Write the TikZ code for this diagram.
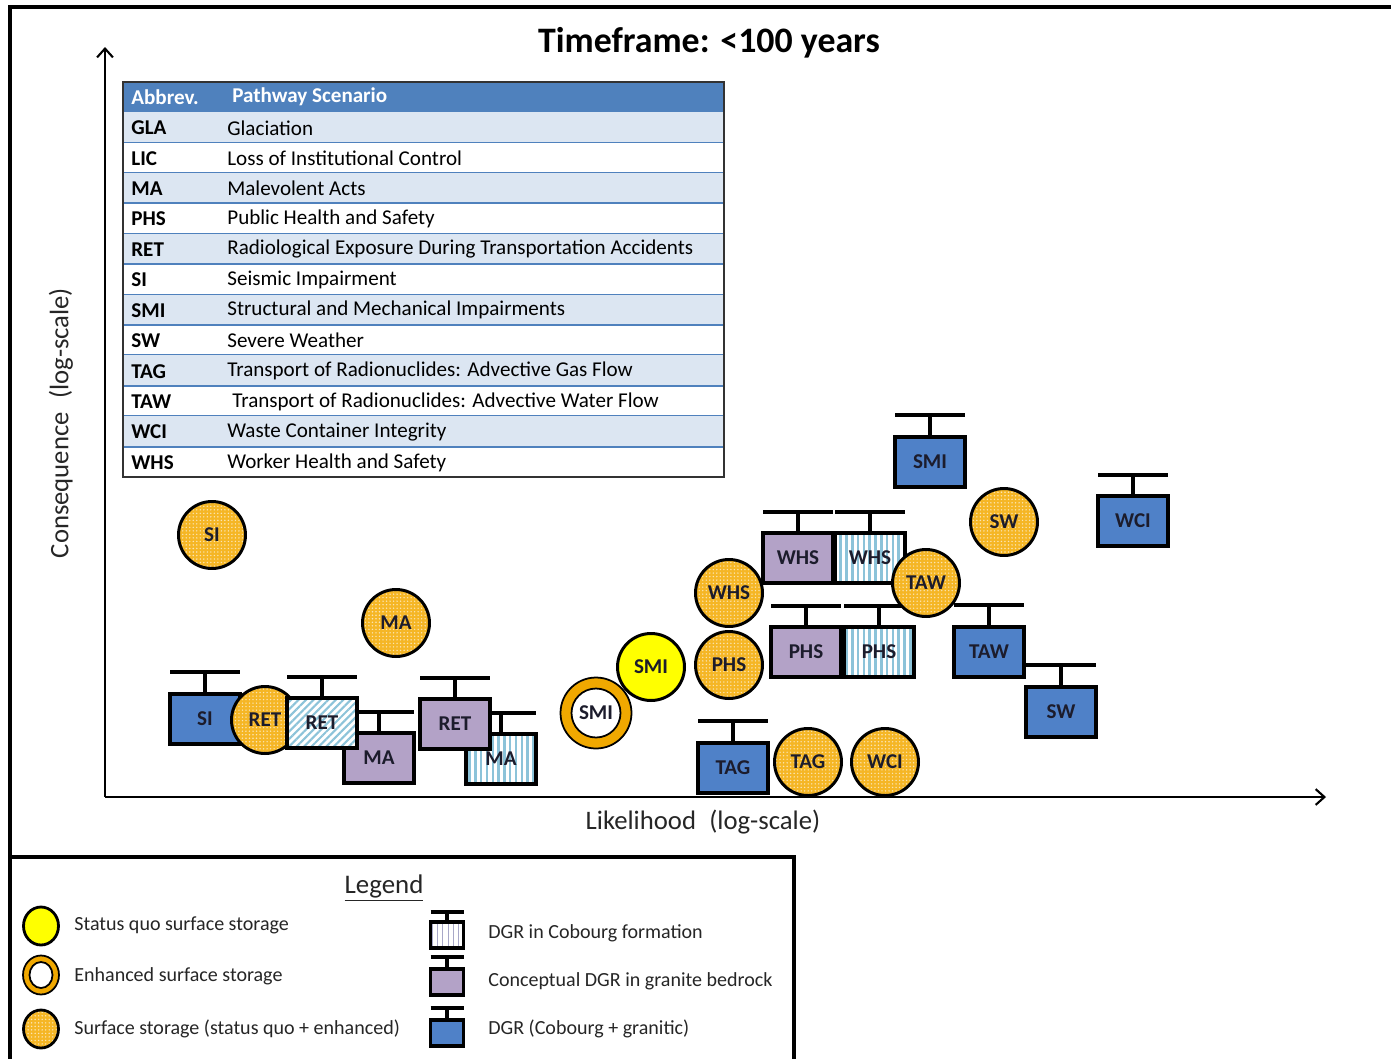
\documentclass[tikz,border=0pt]{standalone}
\usepackage{fontspec}
\setmainfont{Carlito}
\usetikzlibrary{patterns.meta,calc,arrows.meta}
\definecolor{dgrblue}{HTML}{4F81C8}
\definecolor{granite}{HTML}{B3A2C7}
\definecolor{stripe}{HTML}{8CC3D9}
\definecolor{legstripe}{HTML}{A8A8C8}
\definecolor{orangefill}{HTML}{F5B625}
\definecolor{ringorange}{HTML}{F0A800}
\definecolor{sqyellow}{HTML}{FFFF00}
\definecolor{rowlight}{HTML}{DCE6F2}
\definecolor{hdrblue}{HTML}{4F81BD}
\definecolor{labeltext}{HTML}{1C1C2C}
\tikzset{
  base/.style={inner sep=0pt, outer sep=0pt, font=\bfseries\fontsize{12}{14}\selectfont, text=labeltext},
  boxb/.style={base, rectangle, draw=black, line width=2.3pt, minimum width=1.4cm, minimum height=1.0cm},
  bluebox/.style={boxb, fill=dgrblue},
  granitebox/.style={boxb, fill=granite},
  cobourgbox/.style={boxb, preaction={fill=white}, pattern={Lines[angle=90,distance=3.3pt,line width=1.4pt]}, pattern color=stripe},
  cobourgdiag/.style={boxb, preaction={fill=white}, pattern={Lines[angle=45,distance=3pt,line width=1.2pt]}, pattern color=stripe},
  handlebar/.style={line width=2.4pt, draw=black},
  orangecirc/.style={base, circle, draw=black, line width=1.7pt, minimum size=1.34cm, preaction={fill=orangefill}, pattern={Dots[distance=2pt,radius=0.45pt]}, pattern color=white!65!orangefill},
  yellowcirc/.style={base, circle, draw=black, line width=1.7pt, minimum size=1.34cm, fill=sqyellow},
  ringouter/.style={base, circle, draw=black, line width=1pt, minimum size=1.42cm, fill=ringorange},
  ringinner/.style={base, circle, draw=black, line width=1pt, minimum size=0.98cm, fill=white},
  axis/.style={line width=1.2pt, -{Straight Barb[length=5pt,width=9pt,line width=1.2pt]}},
  tabtxt/.style={inner sep=0pt, anchor=west, font=\fontsize{12}{14}\selectfont, text=black},
  tababb/.style={tabtxt, font=\bfseries\fontsize{12}{14}\selectfont},
  legtxt/.style={inner sep=0pt, anchor=west, font=\fontsize{11.4}{13}\selectfont, text=black!85},
  legbox/.style={base, rectangle, draw=black, line width=2.2pt, minimum width=0.66cm, minimum height=0.52cm},
  legcirc/.style={base, ellipse, draw=black, line width=1.6pt, minimum width=0.7cm, minimum height=0.76cm},
}
\usetikzlibrary{shapes.geometric}
\newcommand\hdl[2]{%
  \draw[handlebar] ($(#1.north west)+(0,-#2)$) -- ($(#1.north east)+(0,-#2)$);
  \draw[handlebar] (#1.north) -- ++(0,-#2);}
\begin{document}
\begin{tikzpicture}[x=0.02cm,y=-0.02cm]
\useasboundingbox (0,0) rectangle (1391,1058);
\fill[white] (0,0) rectangle (1391,1058);
% outer frame
\draw[line width=2.3pt] (10,1062) -- (10,7) -- (1395,7);
% title
\node[font=\bfseries\fontsize{20.4}{24}\selectfont] (title) at (709,43) {Timeframe: <100 years};
% table
\fill[hdrblue] (123,82) rectangle (724,112);
\node[tababb, text=white] (hab) at (131,97) {Abbrev.};
\node[tababb, text=white] (hsc) at (232,97) {Pathway Scenario};
\foreach \ab/\txt/\dx [count=\i] in {GLA/Glaciation/0, LIC/Loss of Institutional Control/0, MA/Malevolent Acts/0, PHS/Public Health and Safety/0, RET/Radiological Exposure During Transportation Accidents/0, SI/Seismic Impairment/0, SMI/Structural and Mechanical Impairments/0, SW/Severe Weather/0, TAG/Transport of Radionuclides: Advective Gas Flow/0, TAW/Transport of Radionuclides: Advective Water Flow/5, WCI/Waste Container Integrity/0, WHS/Worker Health and Safety/0}{
  \pgfmathsetmacro\yt{112+(\i-1)*30.42}
  \pgfmathsetmacro\yb{\yt+30.42}
  \pgfmathsetmacro\yc{\yt+15.8}
  \ifodd\i \fill[rowlight] (123,\yt) rectangle (724,\yb); \fi
  \draw[hdrblue, line width=1pt] (123,\yb) -- (724,\yb);
  \node[tababb] (ab\i) at (131,\yc) {\ab};
  \node[tabtxt] (sc\i) at (227+\dx,\yc) {\txt};
}
\draw[black!80, line width=1.2pt] (123,82) rectangle (724,477);
% axes
\coordinate (origin) at (105,797);
\coordinate (ytop) at (105,47);
\coordinate (xend) at (1326,797);
\draw[axis] (origin) -- (ytop);
\draw[axis] (origin) -- (xend);
\node[font=\fontsize{15.2}{18}\selectfont, text=black!85] (xlabel) at (703,822) {Likelihood\enspace(log-scale)};
\node[rotate=90, font=\fontsize{15.2}{18}\selectfont, text=black!85] (ylabel) at (61,423) {Consequence\enspace(log-scale)};
% ---- left cluster
\node[orangecirc] (si-c) at (212,535) {SI};
\node[orangecirc] (ma-c) at (396,623) {MA};
\node[bluebox] (si-b) at (205,719) {SI}; \hdl{si-b}{22}
\node[orangecirc] (ret-c) at (265,720) {RET};
\node[granitebox] (ma-g) at (379,758) {MA}; \hdl{ma-g}{21}
\node[cobourgdiag] (ret-cb) at (322,723) {RET}; \hdl{ret-cb}{21}
\node[cobourgbox] (ma-cb) at (501,759) {MA}; \hdl{ma-cb}{21}
\node[granitebox] (ret-g) at (455,724) {RET}; \hdl{ret-g}{21}
% ---- SMI surface
\node[ringouter] (smi-ring) at (596,713) {};
\node[ringinner] (smi-e) at (596,713) {SMI};
\node[yellowcirc] (smi-y) at (651,667) {SMI};
% ---- middle cluster
\node[granitebox] (whs-g) at (798,558) {WHS}; \hdl{whs-g}{21}
\node[cobourgbox] (whs-cb) at (870,558) {WHS}; \hdl{whs-cb}{21}
\node[orangecirc] (whs-c) at (729,593) {WHS};
\node[orangecirc] (phs-c) at (729,665) {PHS};
\node[granitebox] (phs-g) at (806,652) {PHS}; \hdl{phs-g}{21}
\node[cobourgbox] (phs-cb) at (879,652) {PHS}; \hdl{phs-cb}{21}
\node[bluebox] (taw-b) at (989,652) {TAW}; \hdl{taw-b}{22}
\node[orangecirc] (taw-c) at (926,583) {TAW};
\node[bluebox] (sw-b) at (1061,712) {SW}; \hdl{sw-b}{22}
\node[bluebox] (smi-b) at (930,462) {SMI}; \hdl{smi-b}{22}
\node[orangecirc] (sw-c) at (1004,522) {SW};
\node[bluebox] (wci-b) at (1133,521) {WCI}; \hdl{wci-b}{21}
\node[bluebox] (tag-b) at (733,768) {TAG}; \hdl{tag-b}{22}
\node[orangecirc] (tag-c) at (808,762) {TAG};
\node[orangecirc] (wci-c) at (885,762) {WCI};
% ---- legend
\draw[line width=1.8pt] (10,857) -- (794,857) -- (794,1062);
\node[font=\fontsize{15.3}{18}\selectfont, text=black!85] (legtitle) at (384,888) {\underline{Legend}};
\node[legcirc, fill=sqyellow] (lg1) at (41,926) {};
\node[legtxt] (lt1) at (74,925) {Status quo surface storage};
\node[legcirc, draw=black, line width=1pt, minimum width=0.72cm, minimum height=0.78cm, fill=ringorange] (lg2o) at (41,975) {};
\node[legcirc, line width=1pt, minimum width=0.46cm, minimum height=0.52cm, fill=white] (lg2) at (41,975) {};
\node[legtxt] (lt2) at (74,976) {Enhanced surface storage};
\node[legcirc, preaction={fill=orangefill}, pattern={Dots[distance=2pt,radius=0.45pt]}, pattern color=white!65!orangefill] (lg3) at (41,1029) {};
\node[legtxt] (lt3) at (74,1029) {Surface storage (status quo + enhanced)};
\node[legbox, preaction={fill=white}, pattern={Lines[angle=90,distance=3pt,line width=0.5pt]}, pattern color=legstripe] (lb1) at (447,935) {}; \hdl{lb1}{10}
\node[legtxt] (lbt1) at (488,933) {DGR in Cobourg formation};
\node[legbox, fill=granite] (lb2) at (447,982) {}; \hdl{lb2}{12}
\node[legtxt] (lbt2) at (488,981) {Conceptual DGR in granite bedrock};
\node[legbox, fill=dgrblue] (lb3) at (447,1033) {}; \hdl{lb3}{12}
\node[legtxt] (lbt3) at (488,1029) {DGR (Cobourg + granitic)};
\end{tikzpicture}
\end{document}
